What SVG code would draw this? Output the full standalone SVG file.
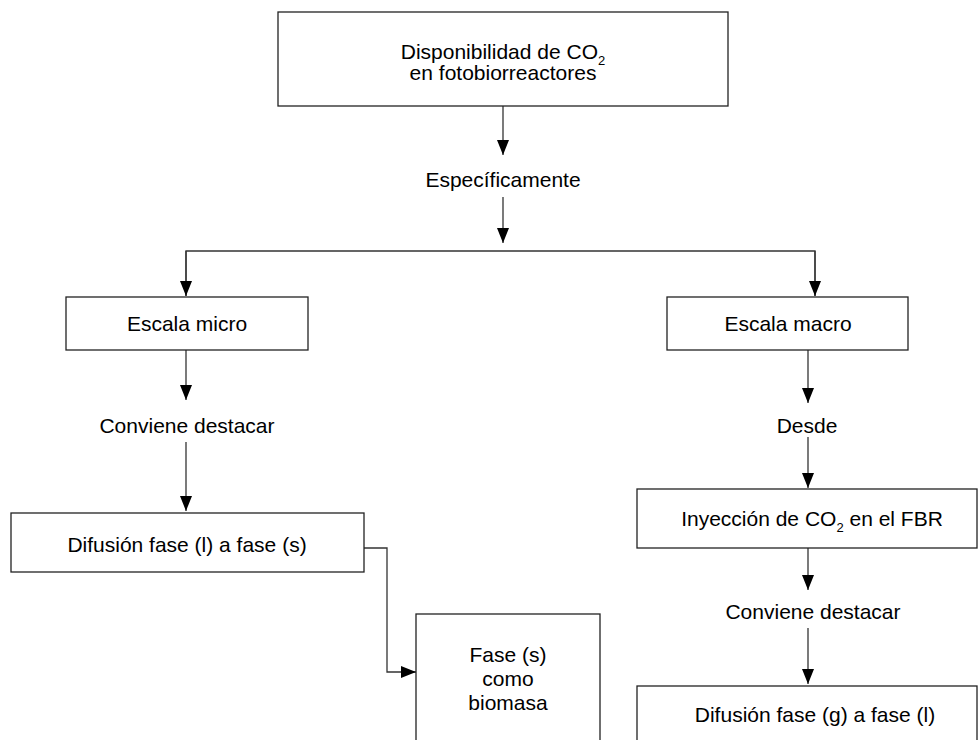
<svg xmlns="http://www.w3.org/2000/svg" width="979" height="740" viewBox="0 0 979 740">
<style>
.box{fill:#fff;stroke:#222;stroke-width:1.3}
.t{font-family:"Liberation Sans",Arial,sans-serif;font-size:21px;fill:#000;text-anchor:middle}
.sub{font-size:13px}
.c{fill:none;stroke:#333;stroke-width:1.3}
</style>
<defs>
<marker id="ah" markerWidth="16" markerHeight="12" refX="15" refY="6" orient="auto" markerUnits="userSpaceOnUse">
<path d="M0,0 L15,6 L0,12 Z" fill="#000"/>
</marker>
</defs>
<rect width="979" height="740" fill="#fff"/>
<g id="connectors">
<path class="c" d="M503,106 V155" marker-end="url(#ah)"/>
<path class="c" d="M503,197 V243" marker-end="url(#ah)"/>
<path class="c" d="M186,296 V251 H815 V296" />
<path class="c" d="M186,251 V296" marker-end="url(#ah)"/>
<path class="c" d="M815,251 V296" marker-end="url(#ah)"/>
<path class="c" d="M186,350 V400" marker-end="url(#ah)"/>
<path class="c" d="M186,442 V511" marker-end="url(#ah)"/>
<path class="c" d="M364,548 H387 V672 H416" marker-end="url(#ah)"/>
<path class="c" d="M808,350 V403" marker-end="url(#ah)"/>
<path class="c" d="M808,437 V488" marker-end="url(#ah)"/>
<path class="c" d="M808,548 V590" marker-end="url(#ah)"/>
<path class="c" d="M808,628 V684" marker-end="url(#ah)"/>
</g>
<g id="n-top">
<rect class="box" x="278" y="12" width="450" height="94"/>
<text class="t" x="503" y="59">Disponibilidad de CO<tspan class="sub" dy="6">2</tspan></text>
<text class="t" x="503" y="80">en fotobiorreactores</text>
</g>
<g id="n-especificamente">
<text class="t" x="503" y="187">Específicamente</text>
</g>
<g id="n-micro">
<rect class="box" x="66" y="297" width="242" height="53"/>
<text class="t" x="187" y="331">Escala micro</text>
</g>
<g id="n-conv1">
<text class="t" x="187" y="433">Conviene destacar</text>
</g>
<g id="n-dif-ls">
<rect class="box" x="11" y="513" width="353" height="59"/>
<text class="t" x="187" y="552">Difusión fase (l) a fase (s)</text>
</g>
<g id="n-fase-s">
<rect class="box" x="416" y="614" width="184" height="140"/>
<text class="t" x="508" y="662">Fase (s)</text>
<text class="t" x="508" y="686">como</text>
<text class="t" x="508" y="710">biomasa</text>
</g>
<g id="n-macro">
<rect class="box" x="667" y="297" width="241" height="53"/>
<text class="t" x="788" y="331">Escala macro</text>
</g>
<g id="n-desde">
<text class="t" x="807" y="433">Desde</text>
</g>
<g id="n-iny">
<rect class="box" x="637" y="489" width="340" height="59"/>
<text class="t" x="812" y="526">Inyección de CO<tspan class="sub" dy="6">2</tspan><tspan dy="-6"> en el FBR</tspan></text>
</g>
<g id="n-conv2">
<text class="t" x="813" y="619">Conviene destacar</text>
</g>
<g id="n-dif-gl">
<rect class="box" x="637" y="686" width="340" height="70"/>
<text class="t" x="815" y="722">Difusión fase (g) a fase (l)</text>
</g>
</svg>
